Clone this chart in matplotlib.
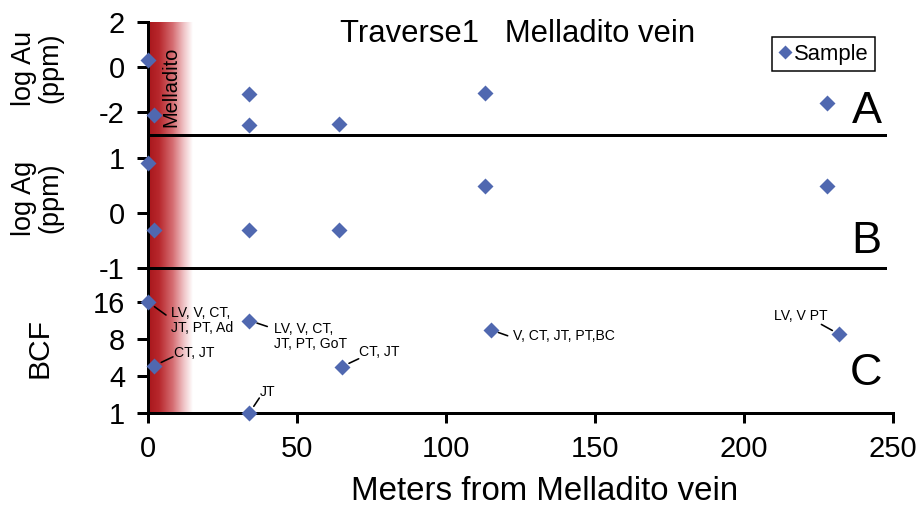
import numpy as np
import matplotlib
matplotlib.use("Agg")
import matplotlib.pyplot as plt
from matplotlib.colors import LinearSegmentedColormap

plt.rcParams['font.family'] = ['Liberation Sans', 'DejaVu Sans']

# ---------------- data ----------------
au_x = [0, 2, 34, 34, 64, 113, 228]
au_y = [0.3, -2.1, -1.2, -2.55, -2.5, -1.15, -1.6]

ag_x = [0, 2, 34, 64, 113, 228]
ag_y = [0.91, -0.31, -0.31, -0.31, 0.49, 0.49]

bcf_x = [0, 2, 34, 34, 65, 115, 232]
bcf_y = [16, 5.1, 12, 1, 5.0, 10, 9]
bcf_labels = ["LV, V, CT,\nJT, PT, Ad", "CT, JT", "LV, V, CT,\nJT, PT, GoT",
              "JT", "CT, JT", "V, CT, JT, PT,BC", "LV, V PT"]

bcf_ticks = [1, 4, 8, 16]
x_ticks = [0, 50, 100, 150, 200, 250]
vein_width = 15  # metres of shaded vein zone

# ---------------- style ----------------
W, H = 921, 507
DPI = 72
fig = plt.figure(figsize=(W / DPI, H / DPI), dpi=DPI)

mk_color = '#5068b0'
left = 148 / W
width = (893 - 148) / W
def fy(px):
    return 1 - px / H

posA = [left, fy(135), width, (135 - 22) / H]
posB = [left, fy(268), width, (268 - 135) / H]
posC = [left, fy(413), width, (413 - 268) / H]

# background gradient band
axbg = fig.add_axes([left, fy(413), width, (413 - 22) / H], zorder=0)
cmap = LinearSegmentedColormap.from_list(
    'vein', [(0.0, '#a8161b'), (0.25, '#b8282d'), (0.55, '#d56d72'),
             (0.8, '#f0c4c7'), (1.0, '#ffffff')])
grad = np.linspace(0, 1, 256).reshape(1, -1)
axbg.imshow(grad, cmap=cmap, aspect='auto', extent=(0, vein_width, 0, 1),
            interpolation='bilinear')
axbg.set_xlim(0, 250)
axbg.set_ylim(0, 1)
axbg.axis('off')

tick_fs = 29
lw = 3
ms = 12

def style(ax):
    ax.set_facecolor('none')
    ax.set_xlim(0, 250)
    for s in ['top', 'right']:
        ax.spines[s].set_visible(False)
    for s in ['left', 'bottom']:
        ax.spines[s].set_linewidth(lw)
    ax.tick_params(axis='y', direction='out', length=11, width=lw,
                   labelsize=tick_fs, pad=12)
    ax.tick_params(axis='x', direction='out', length=10, width=lw,
                   labelsize=tick_fs, pad=12)

# Panel A
axA = fig.add_axes(posA, zorder=2)
style(axA)
axA.set_ylim(-3, 2)
axA.set_yticks([-2, 0, 2])
axA.set_yticklabels(['-2', '0', '2'])
axA.set_xticks([])
axA.spines['bottom'].set_bounds(0, 247.3)
axA.plot(au_x, au_y, 'D', color=mk_color, ms=ms, mec='none',
         clip_on=False, zorder=5, label='Sample')
axA.text(7.6, -0.87, 'Melladito', rotation=90, ha='center', va='center',
         fontsize=20)
axA.text(0.985, 0.106, 'A', transform=axA.transAxes, ha='right',
         va='baseline', fontsize=45)
leg = axA.legend(loc='upper left', bbox_to_anchor=(772 / W, fy(37)),
                 bbox_transform=fig.transFigure, borderaxespad=0,
                 fancybox=False, framealpha=1, edgecolor='black',
                 handlelength=0.6, handletextpad=0.1, borderpad=0.3,
                 markerscale=0.8, fontsize=22)
leg.get_frame().set_linewidth(1.5)

# Panel B
axB = fig.add_axes(posB, zorder=2)
style(axB)
axB.set_ylim(-1, 1.42)
axB.set_yticks([-1, 0, 1])
axB.set_yticklabels(['-1', '0', '1'])
axB.set_xticks([])
axB.spines['bottom'].set_bounds(0, 247.3)
axB.plot(ag_x, ag_y, 'D', color=mk_color, ms=ms, mec='none',
         clip_on=False, zorder=5)
axB.text(0.985, 0.113, 'B', transform=axB.transAxes, ha='right',
         va='baseline', fontsize=45)

# Panel C (evenly spaced BCF ticks)
tick_pos = np.arange(len(bcf_ticks), dtype=float)
tv = np.array(bcf_ticks, dtype=float)

def fwd(v):
    v = np.asarray(v, dtype=float)
    out = np.interp(v, tv, tick_pos)
    lo = v < tv[0]
    hi = v > tv[-1]
    out = np.where(lo, (v - tv[0]) / (tv[1] - tv[0]), out)
    out = np.where(hi, tick_pos[-1] + (v - tv[-1]) / (tv[-1] - tv[-2]), out)
    return out

def inv(p):
    p = np.asarray(p, dtype=float)
    out = np.interp(p, tick_pos, tv)
    lo = p < 0
    hi = p > tick_pos[-1]
    out = np.where(lo, tv[0] + p * (tv[1] - tv[0]), out)
    out = np.where(hi, tv[-1] + (p - tick_pos[-1]) * (tv[-1] - tv[-2]), out)
    return out

axC = fig.add_axes(posC, zorder=2)
style(axC)
axC.set_yscale('function', functions=(fwd, inv))
axC.set_ylim(1, float(inv(3.92)))
axC.set_yticks(bcf_ticks)
axC.set_yticklabels([str(t) for t in bcf_ticks])
axC.yaxis.set_minor_locator(matplotlib.ticker.NullLocator())
axC.set_xticks(x_ticks)
axC.set_xticklabels([str(t) for t in x_ticks])
axC.plot(bcf_x, bcf_y, 'D', color=mk_color, ms=ms, mec='none',
         clip_on=False, zorder=5)
axC.text(0.985, 0.193, 'C', transform=axC.transAxes, ha='right',
         va='baseline', fontsize=45)

# annotation offsets (px): text anchor, leader end
txt_off = [(23, -4), (20, 20), (25, -1), (10, 28), (17, 22), (22, 1), (-12, 25)]
txt_ha = ['left', 'left', 'left', 'left', 'left', 'left', 'right']
line_end = [(18, -13), (19, 9), (18, -6), (10, 15), (17, 8), (17, -6), (-18, 10)]
for i, lab in enumerate(bcf_labels):
    axC.annotate(lab, xy=(bcf_x[i], bcf_y[i]), xytext=txt_off[i],
                 textcoords='offset points', ha=txt_ha[i], va='top',
                 fontsize=14, linespacing=1.1, zorder=6, annotation_clip=False)
    axC.annotate('', xy=(bcf_x[i], bcf_y[i]), xytext=line_end[i],
                 textcoords='offset points', annotation_clip=False,
                 arrowprops=dict(arrowstyle='-', lw=1.6, color='black',
                                 shrinkA=0, shrinkB=8))

axC.set_xlabel('Meters from Melladito vein', fontsize=33)
axC.xaxis.set_label_coords((545 - 148) / (893 - 148), -(500 - 413) / (413 - 268))
axC.xaxis.label.set_va('baseline')

# y labels
fig.text(37 / W, fy(68), 'log Au\n(ppm)', rotation=90, ha='center',
         va='center', fontsize=27, multialignment='center', linespacing=1.0)
fig.text(37 / W, fy(198), 'log Ag\n(ppm)', rotation=90, ha='center',
         va='center', fontsize=27, multialignment='center', linespacing=1.0)
fig.text(40 / W, fy(348), 'BCF', rotation=90, ha='center', va='center',
         fontsize=30)

fig.text(518 / W, fy(42), 'Traverse1   Melladito vein', ha='center',
         va='baseline', fontsize=31)

fig.savefig('out.png', dpi=DPI)
